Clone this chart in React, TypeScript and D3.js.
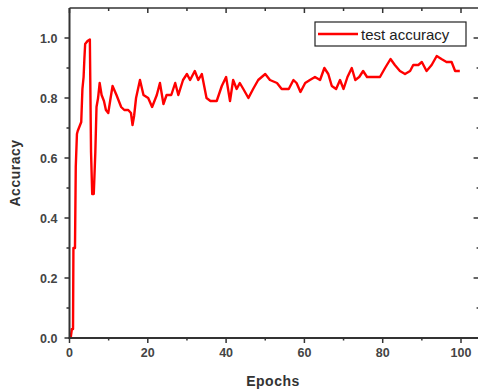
import React, { useEffect } from "react";
import * as d3 from "d3";

// values
const epochs = [
  0.3, 0.6, 0.9, 1.0, 1.4, 1.6, 1.9, 2.1, 2.7, 3.0, 3.3, 3.6, 3.8, 4.0, 4.6, 5.2,
  5.5, 5.8, 6.2, 6.4, 6.6, 6.9, 7.3, 7.7, 8.2, 8.8, 9.3, 9.9, 10.5, 11, 12, 13.2,
  14, 15, 15.7, 16.1, 16.5, 17, 18, 18.9, 20.1, 21.1, 22.3, 23.1, 24, 24.8, 26,
  27, 27.8, 29, 30, 30.8, 32, 32.9, 33.8, 34.4, 35, 36, 37.6, 38.9, 40, 41, 41.8,
  42.7, 43.5, 44.4, 45.7, 46.9, 48.2, 50, 51.2, 53, 54.2, 56, 57.2, 58, 59, 60.2,
  61.4, 62.7, 64, 65.1, 66.1, 67, 68.1, 69.1, 70, 71, 72.1, 73, 74, 75, 76, 77.6,
  79.3, 80.6, 82, 83.1, 84.4, 85.7, 87, 87.8, 89.1, 90, 91.2, 92.5, 93.8, 95,
  96.3, 97.6, 98.5, 99.7,
];
const accuracy = [
  0.0, 0.03, 0.03, 0.3, 0.3, 0.57, 0.68, 0.69, 0.71, 0.72, 0.83, 0.87, 0.93, 0.98,
  0.99, 0.995, 0.62, 0.48, 0.48, 0.55, 0.62, 0.77, 0.8, 0.85, 0.81, 0.79, 0.76,
  0.75, 0.8, 0.84, 0.81, 0.77, 0.76, 0.76, 0.75, 0.71, 0.74, 0.8, 0.86, 0.81, 0.8,
  0.77, 0.81, 0.85, 0.78, 0.81, 0.81, 0.85, 0.81, 0.86, 0.88, 0.86, 0.89, 0.86,
  0.88, 0.84, 0.8, 0.79, 0.79, 0.84, 0.87, 0.79, 0.86, 0.83, 0.85, 0.83, 0.8,
  0.83, 0.86, 0.88, 0.86, 0.85, 0.83, 0.83, 0.86, 0.85, 0.82, 0.85, 0.86, 0.87,
  0.86, 0.9, 0.88, 0.84, 0.83, 0.86, 0.83, 0.87, 0.9, 0.86, 0.87, 0.89, 0.87,
  0.87, 0.87, 0.9, 0.93, 0.91, 0.89, 0.88, 0.89, 0.91, 0.91, 0.92, 0.89, 0.91,
  0.94, 0.93, 0.92, 0.92, 0.89, 0.89,
];
const xTicks = [0, 20, 40, 60, 80, 100];
const xMinorTicks = [10, 30, 50, 70, 90];
const yTicks = [0, 0.2, 0.4, 0.6, 0.8, 1.0];
const yMinorTicks = [0.1, 0.3, 0.5, 0.7, 0.9];
const seriesName = "test accuracy";

const W = 478;
const H = 392;
const margin = { left: 69.5, top: 8, bottom: 54 };
const font = "'Liberation Sans', Arial, sans-serif";
const axisColor = "#333";

const App: React.FC = () => {
  useEffect(() => {
    document.body.style.margin = "0";
  }, []);

  const x = d3.scaleLinear().domain([0, 105]).range([margin.left, margin.left + 105 * 3.915]);
  const y = d3.scaleLinear().domain([0, 1.1]).range([H - margin.bottom, margin.top]);
  const [x0, x1] = x.range();
  const [yb, yt] = y.range();

  const points: [number, number][] = epochs.map((e, i) => [e, accuracy[i]]);
  const line = d3
    .line<[number, number]>()
    .x((d) => x(d[0]))
    .y((d) => y(d[1]));

  return (
    <svg width={W} height={H} style={{ display: "block", background: "#fff" }}>
      {/* frame */}
      <line x1={x0} x2={x1} y1={yt} y2={yt} stroke={axisColor} strokeWidth={1.5} />
      <line x1={x1 - 1} x2={x1 - 1} y1={yt} y2={yb} stroke={axisColor} strokeWidth={1.5} />

      {/* data */}
      <path d={line(points) ?? ""} fill="none" stroke="#ff0000" strokeWidth={2.4} strokeLinejoin="round" />

      <line x1={x0} x2={x0} y1={yt} y2={yb + 1} stroke={axisColor} strokeWidth={2} />
      <line x1={x0 - 1} x2={x1} y1={yb} y2={yb} stroke={axisColor} strokeWidth={2} />

      {/* x ticks */}
      {xTicks.map((t) => (
        <g key={"x" + t}>
          <line x1={x(t)} x2={x(t)} y1={yb} y2={yb + 5} stroke={axisColor} strokeWidth={1.5} />
          <line x1={x(t)} x2={x(t)} y1={yt} y2={yt + 5} stroke={axisColor} strokeWidth={1.5} />
          <text x={x(t)} y={yb + 19} textAnchor="middle" fontFamily={font} fontWeight="bold" fontSize={12.5} fill="#444">
            {t}
          </text>
        </g>
      ))}
      {xMinorTicks.map((t) => (
        <g key={"xm" + t}>
          <line x1={x(t)} x2={x(t)} y1={yb} y2={yb + 2.5} stroke={axisColor} strokeWidth={1.5} />
          <line x1={x(t)} x2={x(t)} y1={yt} y2={yt + 3} stroke={axisColor} strokeWidth={1.5} />
        </g>
      ))}

      {/* y ticks */}
      {yTicks.map((t) => (
        <g key={"y" + t}>
          <line x1={x0 - 5} x2={x0} y1={y(t)} y2={y(t)} stroke={axisColor} strokeWidth={1.5} />
          <line x1={x1 - 7} x2={x1} y1={y(t)} y2={y(t)} stroke={axisColor} strokeWidth={1.5} />
          <text x={x0 - 12} y={y(t) + 4.5} textAnchor="end" fontFamily={font} fontWeight="bold" fontSize={12.5} fill="#444">
            {t.toFixed(1)}
          </text>
        </g>
      ))}
      {yMinorTicks.map((t) => (
        <g key={"ym" + t}>
          <line x1={x0 - 3} x2={x0} y1={y(t)} y2={y(t)} stroke={axisColor} strokeWidth={1.5} />
          <line x1={x1 - 4} x2={x1} y1={y(t)} y2={y(t)} stroke={axisColor} strokeWidth={1.5} />
        </g>
      ))}

      {/* axis titles */}
      <text
        transform={`translate(20, ${(yt + yb) / 2}) rotate(-90)`}
        textAnchor="middle"
        fontFamily={font}
        fontWeight="bold"
        fontSize={14}
        fill="#333"
        letterSpacing={0.5}
      >
        Accuracy
      </text>
      <text x={273} y={386} textAnchor="middle" fontFamily={font} fontWeight="bold" fontSize={14} fill="#333" letterSpacing={0.5}>
        Epochs
      </text>

      {/* legend */}
      <rect x={315} y={22} width={151} height={24} fill="#fff" stroke="#222" strokeWidth={1.2} />
      <line x1={318} x2={358} y1={34} y2={34} stroke="#ff0000" strokeWidth={2.4} />
      <text x={361} y={39.5} fontFamily={font} fontSize={15} fill="#222">
        {seriesName}
      </text>
    </svg>
  );
};

export default App;
